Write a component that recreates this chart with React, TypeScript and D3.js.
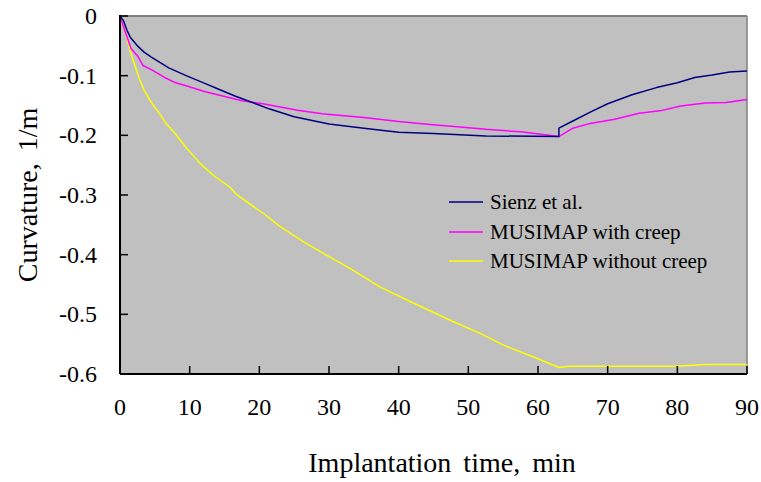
import React, { useEffect } from "react";
import * as d3 from "d3";

// Measured curvature during implantation (time in min, curvature in 1/m)
const sienzTime = [0, 0.5, 1, 1.5, 2.5, 3.5, 4.5, 7, 9.5, 12, 14, 16.5, 19, 21.5, 25, 30, 35, 40, 45, 52.5, 63, 63, 65, 67.5, 70, 73.5, 77, 80, 82.5, 85, 87.5, 90];
const sienzValue = [0, -0.008, -0.024, -0.036, -0.05, -0.061, -0.069, -0.087, -0.1, -0.112, -0.122, -0.134, -0.145, -0.156, -0.169, -0.181, -0.188, -0.195, -0.197, -0.201, -0.202, -0.188, -0.176, -0.161, -0.147, -0.132, -0.12, -0.112, -0.103, -0.099, -0.094, -0.092];

const creepTime = [0, 0.7, 1.6, 2.6, 3.3, 4.5, 6.4, 8, 9.5, 12, 14, 16.5, 17.5, 20.5, 25.5, 29, 35, 40, 44.5, 48, 52.5, 57.5, 63, 65, 67.5, 71, 74.5, 77.5, 80.5, 84, 87, 90];
const creepValue = [0, -0.025, -0.055, -0.068, -0.083, -0.09, -0.103, -0.112, -0.117, -0.126, -0.132, -0.139, -0.142, -0.147, -0.158, -0.164, -0.17, -0.177, -0.182, -0.185, -0.19, -0.194, -0.202, -0.188, -0.18, -0.173, -0.163, -0.159, -0.151, -0.146, -0.145, -0.14];

const noCreepTime = [0, 0.9, 1.6, 2.3, 2.8, 3.5, 4.5, 5.7, 6.6, 7.7, 9.6, 11.5, 13.6, 15.8, 16.7, 20.6, 23, 26.3, 29.2, 33, 37.3, 42.1, 47.8, 51.7, 55.5, 59.3, 63, 64.5, 80, 84, 90];
const noCreepValue = [0, -0.033, -0.064, -0.089, -0.106, -0.125, -0.145, -0.164, -0.18, -0.194, -0.222, -0.247, -0.269, -0.287, -0.299, -0.331, -0.353, -0.378, -0.398, -0.423, -0.454, -0.481, -0.512, -0.532, -0.554, -0.571, -0.589, -0.587, -0.587, -0.584, -0.584];

const seriesNames = ["Sienz et al.", "MUSIMAP with creep", "MUSIMAP without creep"];
const seriesColors = ["#000080", "#FF00FF", "#FFFF00"];

const xTicks = [0, 10, 20, 30, 40, 50, 60, 70, 80, 90];
const yTicks = [0, -0.1, -0.2, -0.3, -0.4, -0.5, -0.6];
const yTickLabels = ["0", "-0.1", "-0.2", "-0.3", "-0.4", "-0.5", "-0.6"];

const xTitle = "Implantation time, min";
const yTitle = "Curvature, 1/m";

const W = 761;
const H = 482;
const plot = { left: 120, right: 747, top: 16, bottom: 374 };
const font = '"Liberation Serif", Tinos, "Times New Roman", Times, "DejaVu Serif", serif';

export default function App() {
  useEffect(() => {
    document.body.style.margin = "0";
  }, []);

  const x = d3.scaleLinear().domain([0, 90]).range([plot.left, plot.right]);
  const y = d3.scaleLinear().domain([-0.6, 0]).range([plot.bottom, plot.top]);

  const line = d3
    .line<[number, number]>()
    .x((d) => x(d[0]))
    .y((d) => y(d[1]));

  const series: [number, number][][] = [
    sienzTime.map((t, i) => [t, sienzValue[i]]),
    creepTime.map((t, i) => [t, creepValue[i]]),
    noCreepTime.map((t, i) => [t, noCreepValue[i]]),
  ];

  const legendX = 449;
  const legendRows = [202, 232, 261];
  const textStyle = { fontFamily: font };

  return (
    <svg width={W} height={H} style={{ position: "absolute", left: 0, top: 0, background: "#fff" }}>
      <rect x={plot.left} y={plot.top} width={plot.right - plot.left} height={plot.bottom - plot.top} fill="#C0C0C0" />
      {/* upper and right frame */}
      <line x1={plot.left} x2={plot.right} y1={plot.top} y2={plot.top} stroke="#808080" strokeWidth={2} />
      <line x1={plot.right} x2={plot.right} y1={plot.top} y2={plot.bottom} stroke="#808080" strokeWidth={1.5} />

      {/* data curves, drawn bottom-up so the reference curve sits on top */}
      {[2, 1, 0].map((k) => (
        <path key={k} d={line(series[k]) ?? ""} fill="none" stroke={seriesColors[k]} strokeWidth={1.5} strokeLinejoin="round" />
      ))}

      {/* axes */}
      <line x1={plot.left} x2={plot.left} y1={plot.top - 1} y2={plot.bottom} stroke="#000" strokeWidth={2} />
      <line x1={plot.left} x2={plot.right} y1={plot.bottom} y2={plot.bottom} stroke="#000" strokeWidth={2} />
      {yTicks.map((v, i) => (
        <g key={`y${i}`}>
          <line x1={plot.left} x2={plot.left + 8} y1={y(v)} y2={y(v)} stroke="#000" strokeWidth={1.5} />
          <text x={97} y={y(v)} dy="0.34em" textAnchor="end" style={textStyle} fontSize={24} fill="#000">
            {yTickLabels[i]}
          </text>
        </g>
      ))}
      {xTicks.map((t) => (
        <g key={`x${t}`}>
          <line x1={x(t)} x2={x(t)} y1={plot.bottom} y2={plot.bottom - 8} stroke="#000" strokeWidth={1.5} />
          <text x={x(t)} y={415} textAnchor="middle" style={textStyle} fontSize={24} fill="#000">
            {t}
          </text>
        </g>
      ))}

      {/* titles */}
      <text x={442} y={472} textAnchor="middle" style={textStyle} fontSize={28} wordSpacing={5} fill="#000">
        {xTitle}
      </text>
      <text
        transform={`translate(37, ${(plot.top + plot.bottom) / 2}) rotate(-90)`}
        textAnchor="middle"
        style={textStyle}
        fontSize={28}
        wordSpacing={5}
        fill="#000"
      >
        {yTitle}
      </text>

      {/* legend */}
      {seriesNames.map((name, i) => (
        <g key={name}>
          <line x1={legendX} x2={legendX + 34} y1={legendRows[i]} y2={legendRows[i]} stroke={seriesColors[i]} strokeWidth={1.5} />
          <text x={legendX + 41} y={legendRows[i]} dy="0.34em" style={textStyle} fontSize={21} fill="#000">
            {name}
          </text>
        </g>
      ))}
    </svg>
  );
}
